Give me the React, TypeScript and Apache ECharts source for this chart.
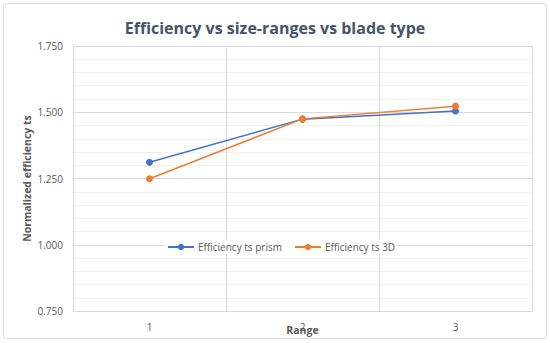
import React, { useEffect, useRef } from "react";
import * as echarts from "echarts";

const categories = ["1", "2", "3"];
const prismValues = [1.311, 1.474, 1.505];
const threeDValues = [1.249, 1.475, 1.523];
const seriesNames = ["Efficiency ts prism", "Efficiency ts 3D"];
const titleText = "Efficiency vs size-ranges vs blade type";
const xName = "Range";
const yName = "Normalized efficiency ts";

export default function App() {
  const ref = useRef<HTMLDivElement>(null);
  useEffect(() => {
    if (!ref.current) return;
    const chart = echarts.init(ref.current, undefined, { renderer: "svg" });
    chart.setOption({
      animation: false,
      backgroundColor: "#ffffff",
      graphic: [
        {
          type: "rect",
          shape: { x: 3.5, y: 3.5, width: 543, height: 335, r: 3 },
          style: { fill: "none", stroke: "#d9d9d9", lineWidth: 1 },
          silent: true,
        },
      ],
      title: {
        text: titleText,
        left: "center",
        top: 15,
        textStyle: {
          fontFamily: "Open Sans",
          fontWeight: "bold",
          fontSize: 16,
          color: "#44546a",
        },
      },
      legend: {
        left: 165,
        top: 240,
        itemWidth: 26,
        itemHeight: 8,
        itemGap: 12,
        backgroundColor: "#ffffff",
        padding: [2, 2],
        textStyle: { fontFamily: "Open Sans", fontSize: 10, color: "#595959", padding: [0, 0, 0, -1] },
        data: seriesNames,
      },
      grid: { left: 73, right: 18, top: 46, bottom: 32, outerBoundsMode: "none", containLabel: false },
      xAxis: {
        type: "category",
        data: categories,
        boundaryGap: true,
        name: xName,
        nameLocation: "middle",
        nameGap: 13,
        nameMoveOverlap: false,
        nameTextStyle: { fontFamily: "Open Sans", fontSize: 10.5, fontWeight: "bold", color: "#595959" },
        axisLine: { lineStyle: { color: "#d9d9d9" } },
        axisTick: { show: false },
        axisLabel: { fontFamily: "Open Sans", fontSize: 10, color: "#595959", margin: 11 },
        splitLine: { show: true, lineStyle: { color: "#d9d9d9" } },
      },
      yAxis: {
        type: "value",
        min: 0.75,
        max: 1.75,
        interval: 0.25,
        name: yName,
        nameLocation: "middle",
        nameGap: 41,
        nameMoveOverlap: false,
        nameTextStyle: { fontFamily: "Open Sans", fontSize: 10.5, fontWeight: "bold", color: "#595959" },
        axisLine: { show: true, lineStyle: { color: "#d9d9d9" } },
        axisTick: { show: false },
        axisLabel: {
          fontFamily: "Open Sans",
          fontSize: 10,
          color: "#595959",
          margin: 10,
          formatter: (v: number) => v.toFixed(3),
        },
        splitLine: { show: true, lineStyle: { color: "#d9d9d9" } },
        minorTick: { show: false, splitNumber: 5 },
        minorSplitLine: { show: true, lineStyle: { color: "#f0f0f0" } },
      },
      series: [
        {
          name: seriesNames[0],
          type: "line",
          data: prismValues,
          symbol: "circle",
          symbolSize: 7,
          itemStyle: { color: "#4472c4" },
          lineStyle: { color: "#4472c4", width: 1.5 },
        },
        {
          name: seriesNames[1],
          type: "line",
          data: threeDValues,
          symbol: "circle",
          symbolSize: 7,
          itemStyle: { color: "#ed7d31" },
          lineStyle: { color: "#ed7d31", width: 1.5 },
        },
      ],
    });
    return () => chart.dispose();
  }, []);
  return (
    <div
      ref={ref}
      style={{ position: "fixed", left: 0, top: 0, width: 550, height: 343 }}
    />
  );
}
